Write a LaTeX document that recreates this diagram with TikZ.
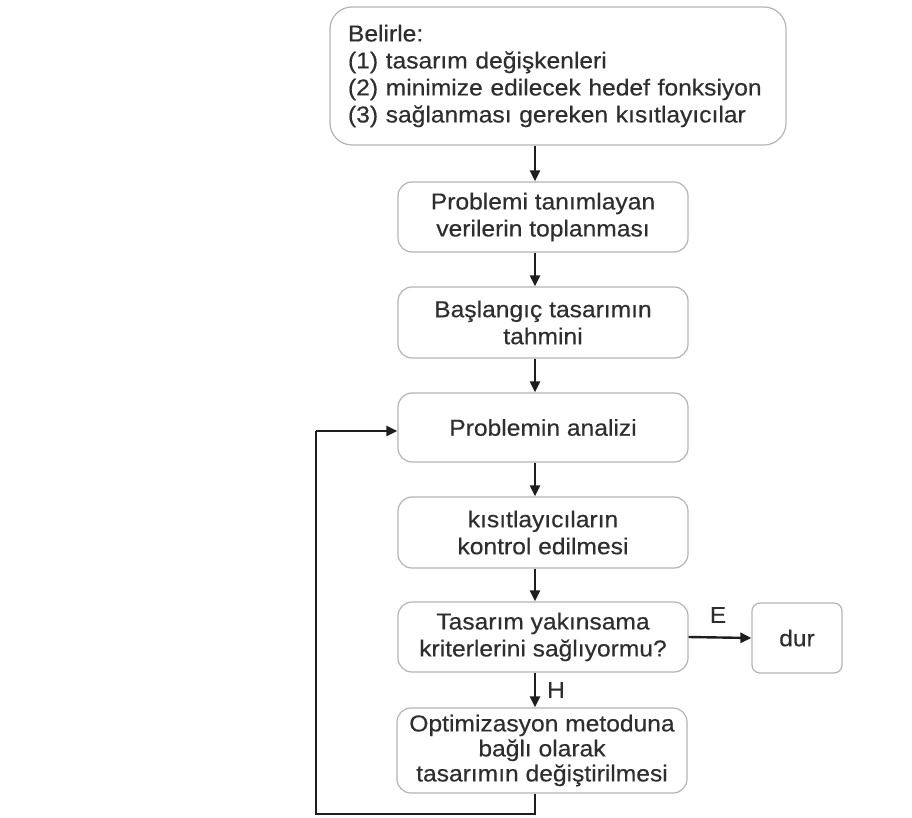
\documentclass[tikz,border=0pt]{standalone}
\usepackage{fontspec}
\setmainfont[FakeStretch=1.07,FakeBold=0.4]{Liberation Sans}
\usetikzlibrary{arrows.meta}
\definecolor{txtc}{HTML}{2E2E2E}
\definecolor{boxc}{HTML}{B4B4B4}
\definecolor{arrc}{HTML}{1E1E1E}
\begin{document}
\begin{tikzpicture}[x=1pt,y=-1pt,
  stepbox/.style={draw=boxc,line width=1.2pt,rounded corners=14pt,minimum width=290pt,align=center,inner sep=0pt,text=txtc,font=\fontsize{23}{27}\selectfont},
  arr/.style={draw=arrc,line width=2.4pt,-{Triangle[length=11pt,width=10pt]}},
  lbl/.style={text=txtc,font=\fontsize{23}{27}\selectfont,inner sep=0pt}]
\useasboundingbox (0,0) rectangle (912,818);
\fill[white] (0,0) rectangle (912,818);
\node[draw=boxc,line width=1.2pt,rounded corners=22pt,minimum width=456pt,minimum height=138pt,text width=420pt,align=left,inner sep=0pt,text=txtc,font=\fontsize{23}{27}\selectfont] (b1) at (558,76) {Belirle:\\(1) tasarım değişkenleri\\(2) minimize edilecek hedef fonksiyon\\(3) sağlanması gereken kısıtlayıcılar};
\node[stepbox,minimum height=70pt] (b2) at (543,217) {Problemi tanımlayan\\verilerin toplanması};
\node[stepbox,minimum height=71pt] (b3) at (543,322.5) {Başlangıç tasarımın\\tahmini};
\node[stepbox,minimum height=69pt] (b4) at (543,427.5) {Problemin analizi};
\node[stepbox,minimum height=71pt] (b5) at (543,532.5) {kısıtlayıcıların\\kontrol edilmesi};
\node[stepbox,minimum height=70pt] (b6) at (543,637) {Tasarım yakınsama\\kriterlerini sağlıyormu?};
\node[stepbox,minimum height=85pt,font=\fontsize{23}{25}\selectfont] (b7) at (542,750.5) {Optimizasyon metoduna\\bağlı olarak\\tasarımın değiştirilmesi};
\node[stepbox,rounded corners=8pt,minimum width=90pt,minimum height=70pt] (dur) at (797,638) {dur};
\coordinate (ax) at (535,0);
\coordinate (lb) at (316,814);
\draw[arr] (b1.south -| ax) -- (b2.north -| ax);
\draw[arr] (b2.south -| ax) -- (b3.north -| ax);
\draw[arr] (b3.south -| ax) -- (b4.north -| ax);
\draw[arr] (b4.south -| ax) -- (b5.north -| ax);
\draw[arr] (b5.south -| ax) -- (b6.north -| ax);
\draw[arr] (b6.south -| ax) -- (b7.north -| ax);
\draw[arr] (b6.east) -- (dur.west);
\node[lbl] (e) at (718,615) {E};
\node[lbl] (h) at (556,690) {H};
\coordinate (lt) at (316,431);
\draw[arr,-] (b7.south -| ax) |- (lb) -- (lt);
\draw[arr] (lt) -- (b4.west |- lt);
\end{tikzpicture}
\end{document}
